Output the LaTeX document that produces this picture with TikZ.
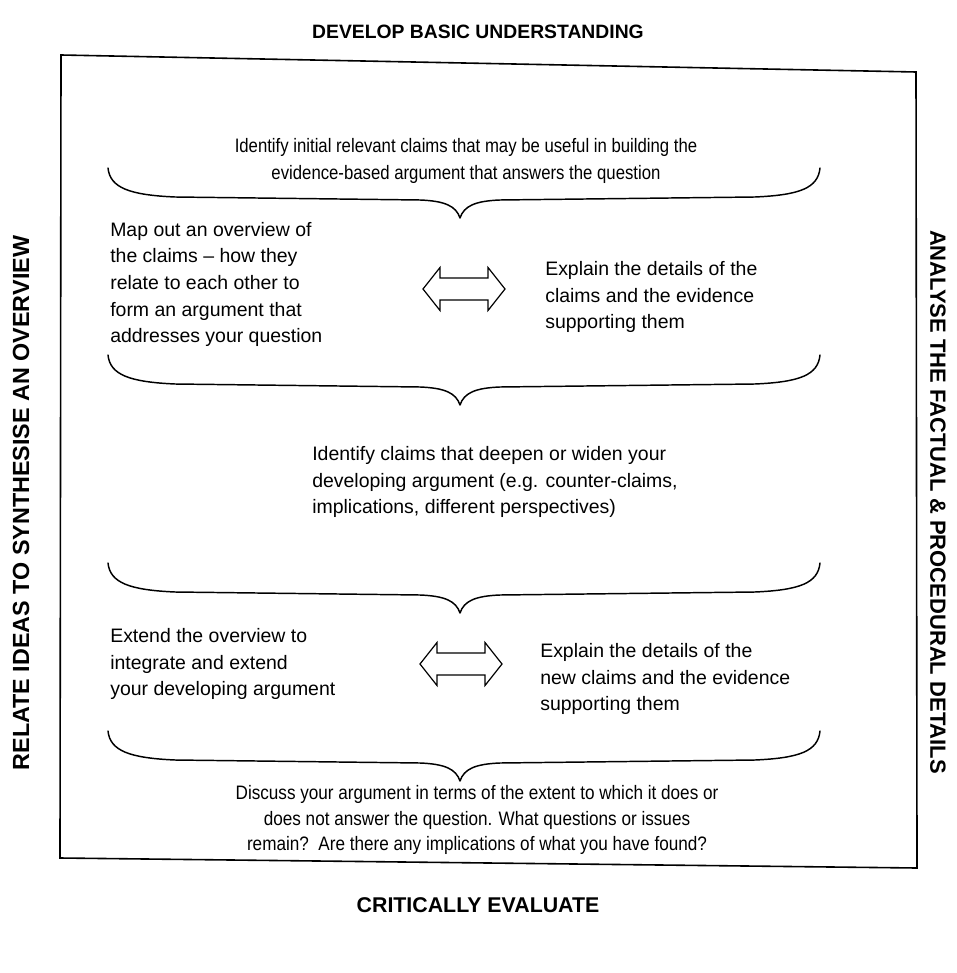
\documentclass[tikz,border=0pt]{standalone}
\usepackage{fontspec}
\setmainfont{Liberation Sans}
\newfontfamily\condfont[FakeStretch=0.86]{Liberation Sans}
\newfontfamily\condfontb[FakeStretch=0.88]{Liberation Sans}
\begin{document}
\begin{tikzpicture}[x=0.75pt,y=-0.75pt,
  body/.style={font=\fontsize{14.6}{19.9}\selectfont, inner sep=0pt},
  lbl/.style={font=\bfseries\fontsize{14.5}{17}\selectfont, inner sep=0pt},
  sidelbl/.style={font=\bfseries\fontsize{16.5}{19}\selectfont, inner sep=0pt},
  frame/.style={line width=1.2pt, line join=miter},
  brc/.style={line width=1.1pt, line cap=round, line join=round},
  dbl/.style={draw, line width=0.9pt, fill=white, line join=miter},
  dblarrow/.pic={\draw[dbl] (-41,0) -- (-24,-21.5) -- (-24,-11) -- (24,-11) -- (24,-21.5) -- (41,0) -- (24,21.5) -- (24,11) -- (-24,11) -- (-24,21.5) -- cycle;},
  bracedown/.pic={\draw[brc] (-352,0) .. controls (-350,20) and (-330,27) .. (-285,29) -- (-40,32) .. controls (-15,33) and (-4,38) .. (0,50) .. controls (4,38) and (15,33) .. (40,32) -- (295,29) .. controls (340,27) and (358,20) .. (360,0);}
]
\useasboundingbox (0,0) rectangle (956,973);
\fill[white] (0,0) rectangle (956,973);

% frame
\draw[frame] (61,55) -- (916,72) -- (917,868) -- (60,858) -- cycle;

% outer labels
\node[lbl] (top) at (478,32) {DEVELOP BASIC UNDERSTANDING};
\node[lbl, font=\bfseries\fontsize{16}{19}\selectfont] (bottom) at (478,905) {CRITICALLY EVALUATE};
\node[sidelbl, font=\bfseries\fontsize{17.5}{20}\selectfont, rotate=90] (left) at (21,503) {RELATE IDEAS TO SYNTHESISE AN OVERVIEW};
\node[sidelbl, rotate=-90] (right) at (938,502) {ANALYSE THE FACTUAL \& PROCEDURAL DETAILS};

% contents
\node[inner sep=0pt, align=center, font=\condfont\fontsize{14.6}{20.5}\selectfont] (t1) at (466,161) {Identify initial relevant claims that may be useful in building the\\evidence-based argument that answers the question};
\pic (b1) at (460,168) {bracedown};

\node[body, align=left, anchor=west] (l1) at (110,284.5) {Map out an overview of\\the claims -- how they\\relate to each other to\\form an argument that\\addresses your question};
\pic (a1) at (464,289) {dblarrow};
\node[body, align=left, anchor=west] (r1) at (545,297) {Explain the details of the\\claims and the evidence\\supporting them};

\pic (b2) at (460,355) {bracedown};

\node[body, align=left, anchor=west] (t2) at (312,482) {Identify claims that deepen or widen your\\developing argument (e.g. counter-claims,\\implications, different perspectives)};

\pic (b3) at (460,563) {bracedown};

\node[body, align=left, anchor=west] (l2) at (110,664) {Extend the overview to\\integrate and extend\\your developing argument};
\pic (a2) at (461,664) {dblarrow};
\node[body, align=left, anchor=west] (r2) at (540,679) {Explain the details of the\\new claims and the evidence\\supporting them};

\pic (b4) at (460,731) {bracedown};

\node[inner sep=0pt, align=center, font=\condfontb\fontsize{14.6}{18.8}\selectfont] (t3) at (477,820) {Discuss your argument in terms of the extent to which it does or\\does not answer the question. What questions or issues\\remain?\ \ Are there any implications of what you have found?};
\end{tikzpicture}
\end{document}
